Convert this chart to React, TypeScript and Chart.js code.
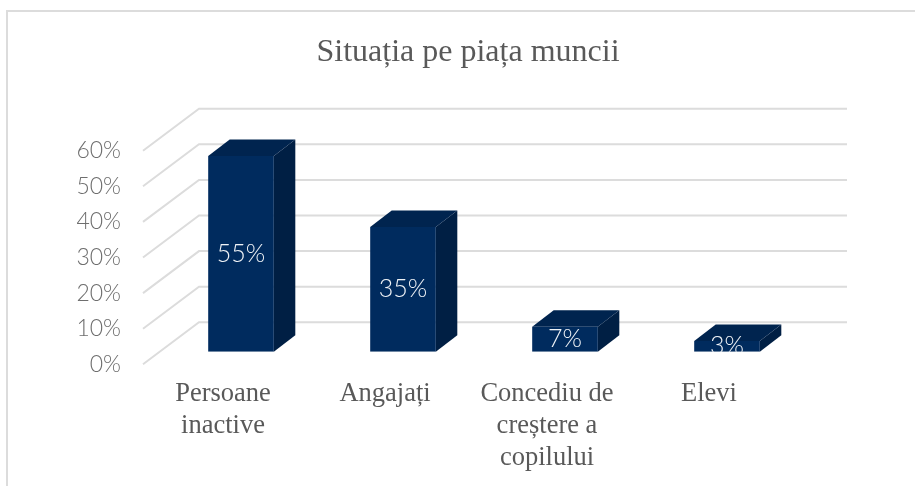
import React, { useEffect, useRef } from "react";
import { Chart, registerables } from "chart.js";

Chart.register(...registerables);

const categories: (string | string[])[] = [
  ["Persoane", "inactive"],
  "Angajați",
  ["Concediu de", "creștere a", "copilului"],
  "Elevi",
];
const shares = [55, 35, 7, 3];
const yTicks = [0, 10, 20, 30, 40, 50, 60];

const FRONT = "#002b5e";
const SIDE = "#001f44";
const TOP = "#00244f";
const GRID = "#dcdcdc";

const wall = { dx: 56, dy: -42 };
const barPlane = { dx: 17, dy: -12.6 };
const depth = { dx: 21.5, dy: -16.5 };

const box3d = {
  id: "box3d",
  afterLayout(chart: any) {
    if (chart.titleBlock) {
      chart.titleBlock.left += 1;
      chart.titleBlock.right += 1;
    }
  },
  beforeDatasetsDraw(chart: any) {
    const { ctx, chartArea, scales } = chart;
    ctx.save();
    ctx.strokeStyle = GRID;
    ctx.lineWidth = 2;
    for (const t of yTicks) {
      const y = scales.y.getPixelForValue(t);
      ctx.beginPath();
      ctx.moveTo(chartArea.left, y);
      ctx.lineTo(chartArea.left + wall.dx, y + wall.dy);
      ctx.lineTo(chartArea.right + wall.dx, y + wall.dy);
      ctx.stroke();
    }
    ctx.translate(barPlane.dx, barPlane.dy);
    for (const bar of chart.getDatasetMeta(0).data) {
      const l = bar.x - bar.width / 2;
      const r = bar.x + bar.width / 2;
      ctx.fillStyle = SIDE;
      ctx.beginPath();
      ctx.moveTo(r, bar.y);
      ctx.lineTo(r + depth.dx, bar.y + depth.dy);
      ctx.lineTo(r + depth.dx, bar.base + depth.dy);
      ctx.lineTo(r, bar.base);
      ctx.closePath();
      ctx.fill();
      ctx.fillStyle = TOP;
      ctx.beginPath();
      ctx.moveTo(l, bar.y);
      ctx.lineTo(l + depth.dx, bar.y + depth.dy);
      ctx.lineTo(r + depth.dx, bar.y + depth.dy);
      ctx.lineTo(r, bar.y);
      ctx.closePath();
      ctx.fill();
    }
    ctx.restore();
    ctx.save();
    ctx.translate(barPlane.dx, barPlane.dy);
  },
  afterDatasetsDraw(chart: any) {
    const { ctx } = chart;
    ctx.restore();
    ctx.save();
    ctx.translate(barPlane.dx, barPlane.dy);
    ctx.font = "300 25px Lato";
    ctx.fillStyle = "#eef2f6";
    ctx.textAlign = "center";
    ctx.textBaseline = "middle";
    chart.getDatasetMeta(0).data.forEach((bar: any, i: number) => {
      ctx.save();
      ctx.beginPath();
      ctx.rect(bar.x - bar.width, 0, bar.width * 2, bar.base);
      ctx.clip();
      ctx.fillText(shares[i] + "%", bar.x, (bar.y + bar.base) / 2);
      ctx.restore();
    });
    ctx.restore();
  },
};

export default function App() {
  const ref = useRef<HTMLCanvasElement>(null);
  useEffect(() => {
    const chart = new Chart(ref.current!, {
      type: "bar",
      data: {
        labels: categories as any,
        datasets: [
          {
            data: shares,
            backgroundColor: FRONT,
            categoryPercentage: 0.405,
            barPercentage: 1,
          },
        ],
      },
      options: {
        animation: false,
        responsive: false,
        layout: { padding: { left: 0, right: 124, top: 0, bottom: 0 } },
        plugins: {
          legend: { display: false },
          tooltip: { enabled: false },
          title: {
            display: true,
            text: "Situația pe piața muncii",
            fullSize: false,
            color: "#595959",
            font: { family: "Liberation Serif", size: 32, weight: "normal" },
            padding: { top: 33.8, bottom: 78.5 },
          },
        },
        scales: {
          x: {
            grid: { display: false, drawTicks: false },
            border: { display: false },
            afterFit(s: any) {
              s.height = 121.7;
            },
            ticks: {
              autoSkip: false,
              maxRotation: 0,
              minRotation: 0,
              padding: 14,
              labelOffset: -1,
              color: "#595959",
              font: { family: "Liberation Serif", size: 26.5 },
            },
          },
          y: {
            min: 0,
            max: 60,
            grid: { display: false, drawTicks: false },
            border: { display: false },
            afterFit(s: any) {
              s.width = 143;
            },
            ticks: {
              stepSize: 10,
              padding: 22,
              color: "#6e6e6e",
              font: { family: "Lato", size: 23, weight: 300 },
              callback: (v: any) => v + "%",
            },
          },
        },
      },
      plugins: [box3d],
    });
    return () => chart.destroy();
  }, []);
  return (
    <div style={{ position: "absolute", left: 0, top: 0, width: 915, height: 486, background: "#fff" }}>
      <canvas ref={ref} width={915} height={486} style={{ display: "block" }} />
      <div
        style={{
          position: "absolute",
          left: 6,
          top: 10,
          right: 0,
          bottom: 0,
          borderTop: "2.5px solid #dcdcdc",
          borderLeft: "2.5px solid #dcdcdc",
        }}
      />
    </div>
  );
}
